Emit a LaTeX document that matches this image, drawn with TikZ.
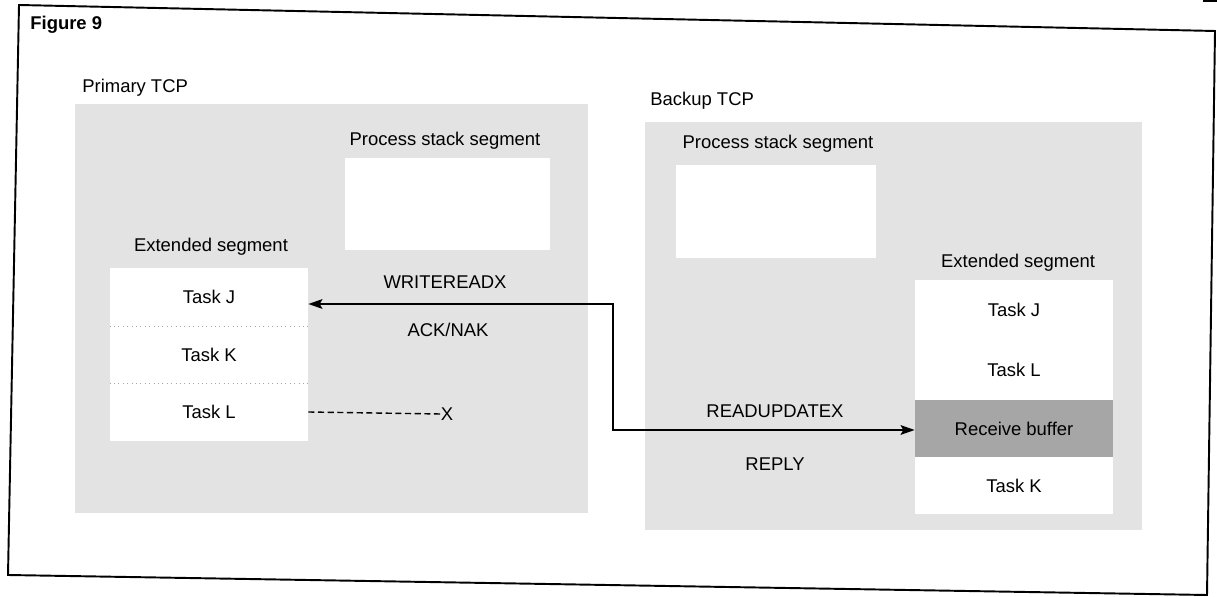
\documentclass[tikz,border=0pt]{standalone}
\usepackage{fontspec}
\setmainfont{Liberation Sans}
\usetikzlibrary{arrows.meta}
\begin{document}
\begin{tikzpicture}[x=0.02cm,y=-0.02cm,
  txt/.style={font=\fontsize{10.5}{12}\selectfont, inner sep=0pt},
  area/.style={fill=black!11, draw=none, inner sep=0pt},
  cell/.style={fill=white, draw=none, inner sep=0pt, minimum width=3.96cm, font=\fontsize{10.5}{12}\selectfont},
  sep/.style={black!35, dotted, line width=0.5pt},
  arr/.style={line width=0.9pt, {Stealth[length=8pt,width=5.5pt,inset=1.5pt]}-{Stealth[length=8pt,width=5.5pt,inset=1.5pt]}},
]
\useasboundingbox (0,0) rectangle (1217,597);
% outer frame (slightly skewed scan)
\draw[line width=1.1pt] (19,5) -- (1215,31) -- (1207,595) -- (8,575) -- cycle;
\draw[line width=0.8pt] (1203,1) -- (1217,1);

\node[txt, font=\fontsize{10.5}{12}\selectfont\bfseries, anchor=west] (fig) at (30,25) {Figure 9};

% Primary TCP
\node[txt, anchor=west] (ptcp) at (82,88) {Primary TCP};
\node[area, minimum width=10.26cm, minimum height=8.18cm] (parea) at (331.5,308.5) {};
\node[cell, minimum width=4.1cm, minimum height=1.84cm] (pstack) at (447.5,204) {};
\node[txt] (pstacklbl) at (445,141) {Process stack segment};
\node[txt] (pextlbl) at (211,247) {Extended segment};
\node[cell, minimum height=1.16cm] (jL) at (209,297) {Task J};
\node[cell, minimum height=1.14cm] (kL) at (209,354.5) {Task K};
\node[cell, minimum height=1.16cm] (lL) at (209,412) {Task L};
\draw[sep] (jL.south west) -- (jL.south east);
\draw[sep] (kL.south west) -- (kL.south east);

% Backup TCP
\node[txt, anchor=west] (btcp) at (650,101) {Backup TCP};
\node[area, minimum width=9.94cm, minimum height=8.16cm] (barea) at (893.5,326) {};
\node[cell, minimum width=4.0cm, minimum height=1.86cm] (bstack) at (776,211.5) {};
\node[txt] (bstacklbl) at (778,144) {Process stack segment};
\node[txt] (bextlbl) at (1018,263) {Extended segment};
\node[cell, minimum height=1.2cm] (jR) at (1014,310) {Task J};
\node[cell, minimum height=1.2cm] (lR) at (1014,370) {Task L};
\node[cell, fill=black!35, minimum height=1.14cm] (rb) at (1014,428.5) {Receive buffer};
\node[cell, minimum height=1.14cm] (kR) at (1014,485.5) {Task K};

% messages
\node[txt] (wrx) at (445,282) {WRITEREADX};
\node[txt] (ack) at (448,330) {ACK/NAK};
\node[txt] (rux) at (775,411) {READUPDATEX};
\node[txt] (rep) at (775,464) {REPLY};
\node[txt] (xmark) at (447,414) {X};

\coordinate (c1) at (613,304);
\coordinate (c2) at (613,430);
\draw[arr] (c1 -| jL.east) -- (c1) -- (c2) -- (c2 -| rb.west);
\draw[line width=0.8pt, dash pattern=on 3.5pt off 2pt] (lL.east) -- (xmark.west);
\end{tikzpicture}
\end{document}
